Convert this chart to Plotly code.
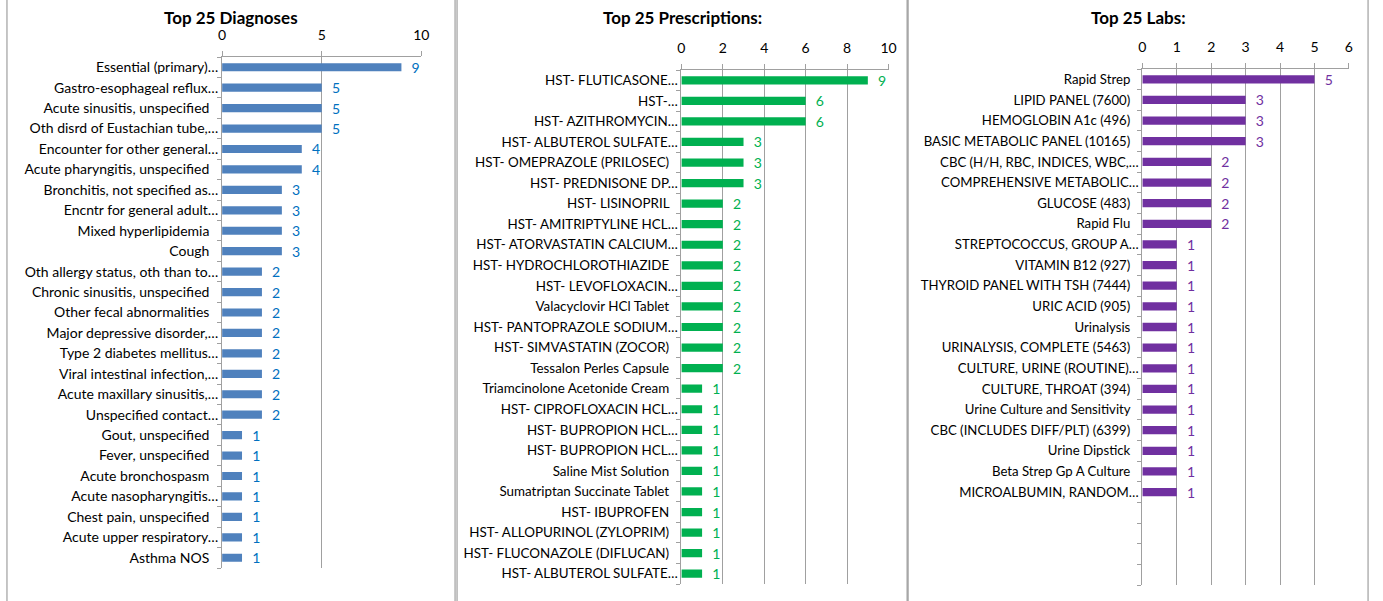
import plotly.graph_objects as go

W, H = 1383, 601

# ---------------- data ----------------
diag_labels = [
    "Essential (primary)…", "Gastro-esophageal reflux…", "Acute sinusitis, unspecified",
    "Oth disrd of Eustachian tube,…", "Encounter for other general…", "Acute pharyngitis, unspecified",
    "Bronchitis, not specified as…", "Encntr for general adult…", "Mixed hyperlipidemia", "Cough",
    "Oth allergy status, oth than to…", "Chronic sinusitis, unspecified", "Other fecal abnormalities",
    "Major depressive disorder,…", "Type 2 diabetes mellitus…", "Viral intestinal infection,…",
    "Acute maxillary sinusitis,…", "Unspecified contact…", "Gout, unspecified", "Fever, unspecified",
    "Acute bronchospasm", "Acute nasopharyngitis…", "Chest pain, unspecified",
    "Acute upper respiratory…", "Asthma NOS",
]
diag_values = [9, 5, 5, 5, 4, 4, 3, 3, 3, 3, 2, 2, 2, 2, 2, 2, 2, 2, 1, 1, 1, 1, 1, 1, 1]

rx_labels = [
    "HST- FLUTICASONE…", "HST-…", "HST- AZITHROMYCIN…", "HST- ALBUTEROL SULFATE…",
    "HST- OMEPRAZOLE (PRILOSEC)", "HST- PREDNISONE DP…", "HST- LISINOPRIL", "HST- AMITRIPTYLINE HCL…",
    "HST- ATORVASTATIN CALCIUM…", "HST- HYDROCHLOROTHIAZIDE", "HST- LEVOFLOXACIN…",
    "Valacyclovir HCl Tablet", "HST- PANTOPRAZOLE SODIUM…", "HST- SIMVASTATIN (ZOCOR)",
    "Tessalon Perles Capsule", "Triamcinolone Acetonide Cream", "HST- CIPROFLOXACIN HCL…",
    "HST- BUPROPION HCL…", "HST- BUPROPION HCL…", "Saline Mist Solution",
    "Sumatriptan Succinate Tablet", "HST- IBUPROFEN", "HST- ALLOPURINOL (ZYLOPRIM)",
    "HST- FLUCONAZOLE (DIFLUCAN)", "HST- ALBUTEROL SULFATE…",
]
rx_values = [9, 6, 6, 3, 3, 3, 2, 2, 2, 2, 2, 2, 2, 2, 2, 1, 1, 1, 1, 1, 1, 1, 1, 1, 1]

lab_labels = [
    "Rapid Strep", "LIPID PANEL (7600)", "HEMOGLOBIN A1c (496)", "BASIC METABOLIC PANEL (10165)",
    "CBC (H/H, RBC, INDICES, WBC,…", "COMPREHENSIVE METABOLIC…", "GLUCOSE (483)", "Rapid Flu",
    "STREPTOCOCCUS, GROUP A…", "VITAMIN B12 (927)", "THYROID PANEL WITH TSH (7444)",
    "URIC ACID (905)", "Urinalysis", "URINALYSIS, COMPLETE (5463)", "CULTURE, URINE (ROUTINE)…",
    "CULTURE, THROAT (394)", "Urine Culture and Sensitivity", "CBC (INCLUDES DIFF/PLT) (6399)",
    "Urine Dipstick", "Beta Strep Gp A Culture", "MICROALBUMIN, RANDOM…",
]
lab_values = [5, 3, 3, 3, 2, 2, 2, 2, 1, 1, 1, 1, 1, 1, 1, 1, 1, 1, 1, 1, 1]

titles = ["Top 25 Diagnoses", "Top 25 Prescriptions:", "Top 25 Labs:"]
n_slots = 25

# ---------------- style ----------------
FONT = "Lato, 'Open Sans', sans-serif"
FS = 14
label_sizes = [14, 13.4, 13.2]
GRID = "#A0A0A0"
bar_colors = ["#4F81BD", "#00B050", "#7030A0"]
text_colors = ["#0070C0", "#00B050", "#7030A0"]
x_ranges = [[0, 10], [0, 10], [0, 6]]
x_dticks = [5, 2, 1]
# plot areas in pixels: (left, right, top, bottom)
areas = [(220, 421, 57, 568), (683.3, 892.3, 70, 584), (1148.3, 1356.7, 69, 585)]
panels = [(3, 455), (457, 911), (912, 1376)]

datasets = [(diag_labels, diag_values), (rx_labels, rx_values), (lab_labels, lab_values)]

fig = go.Figure()
layout = dict(
    width=W, height=H, margin=dict(l=0, r=0, t=0, b=0),
    paper_bgcolor="white", plot_bgcolor="white", showlegend=False,
    font=dict(family=FONT, size=FS, color="#000000"),
    annotations=[], shapes=[],
)

for i, (labels, values) in enumerate(datasets):
    xa = "x" if i == 0 else f"x{i+1}"
    ya = "y" if i == 0 else f"y{i+1}"
    pos = list(range(len(values)))
    fig.add_trace(go.Bar(
        x=values, y=pos, orientation="h", xaxis=xa, yaxis=ya,
        marker=dict(color=bar_colors[i], line=dict(width=0)),
        texttemplate="\u00a0\u00a0%{x}", textposition="outside",
        textfont=dict(family=FONT, size=FS, color=text_colors[i]),
        constraintext="none", cliponaxis=False, hoverinfo="skip",
    ))
    l, r, t, b = areas[i]
    ticktext = [s if s.endswith("…") else s + "\u00a0\u00a0\u2009" for s in labels]
    ticktext += [""] * (n_slots - len(labels))
    xkey = "xaxis" if i == 0 else f"xaxis{i+1}"
    ykey = "yaxis" if i == 0 else f"yaxis{i+1}"
    layout[xkey] = dict(
        domain=[l / W, r / W], anchor=ya, side="top", range=x_ranges[i], dtick=x_dticks[i],
        showgrid=True, gridcolor=GRID, gridwidth=1, zeroline=False,
        showline=True, linecolor=GRID, linewidth=1,
        ticks="outside", ticklen=5, tickcolor=GRID, tickwidth=1,
        ticklabelstandoff=5, tickfont=dict(family=FONT, size=FS, color="#000000"),
        fixedrange=True,
    )
    layout[ykey] = dict(
        domain=[1 - b / H, 1 - t / H], anchor=xa, type="category",
        categoryorder="array", categoryarray=list(range(n_slots)),
        tickmode="array", tickvals=list(range(n_slots)), ticktext=ticktext,
        range=[n_slots - 0.5, -0.5], tickson="boundaries",
        showgrid=False, zeroline=False, showline=True, linecolor=GRID, linewidth=1,
        ticks="outside", ticklen=4, tickcolor=GRID, tickwidth=1,
        tickfont=dict(family=FONT, size=label_sizes[i], color="#000000"), fixedrange=True,
    )
    # chart title
    p0, p1 = panels[i]
    layout["annotations"].append(dict(
        text=f"<b>{titles[i]}</b>", xref="paper", yref="paper",
        x=(p0 + p1) / 2 / W, y=1 - 18 / H, xanchor="center", yanchor="middle",
        showarrow=False, font=dict(family=FONT, size=17, color="#000000"),
    ))
    # chart border
    layout["shapes"].append(dict(
        type="rect", xref="paper", yref="paper",
        x0=p0 / W, x1=p1 / W, y0=-0.1, y1=1.1,
        line=dict(color="#8C8C8C", width=1), fillcolor="rgba(0,0,0,0)", layer="below",
    ))

layout["bargap"] = 0.6
fig.update_layout(**layout)
fig.write_html(
    "out.html",
    config={"displayModeBar": False},
    post_script="document.body.style.margin='0';document.body.style.overflow='hidden';",
)
